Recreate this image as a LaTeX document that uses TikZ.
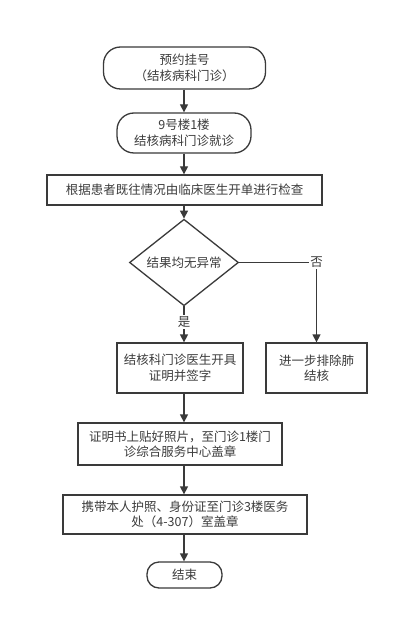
\documentclass[tikz,border=0pt]{standalone}
\usepackage{fontspec}
\setmainfont{Noto Sans CJK SC}
\usetikzlibrary{arrows.meta,shapes.geometric}
\definecolor{ln}{HTML}{3A3A3A}
\definecolor{tx}{HTML}{3C3C3C}
\begin{document}
\begin{tikzpicture}[x=1pt,y=-1pt,
  base/.style={draw=ln, line width=1.3pt, text=tx, align=center, inner sep=0pt,
    font=\fontsize{12.5}{15.5}\selectfont},
  rbox/.style={base, rounded corners=17pt},
  sbox/.style={base},
  dbox/.style={base, diamond},
  conn/.style={draw=ln, line width=1.3pt, -{Triangle[length=8pt,width=8pt]}},
  lbl/.style={fill=white, text=tx, inner sep=1.5pt, font=\fontsize{12.5}{15.5}\selectfont}]
\useasboundingbox[fill=white] (0,0) rectangle (396,617);
\node[rbox, minimum width=162pt, minimum height=42pt] (n1) at (184.5,68) {预约挂号\\（结核病科门诊）};
\node[rbox, minimum width=134pt, minimum height=40pt] (n2) at (184,133) {9号楼1楼\\结核病科门诊就诊};
\node[sbox, minimum width=275pt, minimum height=30pt] (n3) at (184.5,190) {根据患者既往情况由临床医生开单进行检查};
\node[dbox, minimum width=109pt, minimum height=71pt] (d) at (184,262.5) {结果均无异常};
\node[sbox, minimum width=126pt, minimum height=50pt] (l) at (180,368) {结核科门诊医生开具\\证明并签字};
\node[sbox, minimum width=101pt, minimum height=50pt] (r) at (316.5,368) {进一步排除肺\\结核};
\node[sbox, minimum width=204pt, minimum height=42pt] (b4) at (180,444) {证明书上贴好照片，至门诊1楼门\\诊综合服务中心盖章};
\node[sbox, minimum width=244pt, minimum height=39pt] (b5) at (185,514.5) {携带本人护照、身份证至门诊3楼医务\\处（4-307）室盖章};
\node[rbox, rounded corners=12pt, minimum width=75pt, minimum height=26pt] (e) at (184.5,575) {结束};
\draw[conn] (n1.south -| n2.south) -- (n2.north);
\draw[conn] (n2.south) -- (n2.south |- n3.north);
\draw[conn] (n3.south -| d.north) -- (d.north);
\draw[conn] (d.south) -- node[lbl, pos=0.42] {是} (d.south |- l.north);
\draw[conn] (d.east) -| node[lbl, pos=0.5] {否} (r.north);
\draw[conn] (d.south |- l.south) -- (d.south |- b4.north);
\draw[conn] (d.south |- b4.south) -- (d.south |- b5.north);
\draw[conn] (d.south |- b5.south) -- (d.south |- e.north);
\end{tikzpicture}
\end{document}
